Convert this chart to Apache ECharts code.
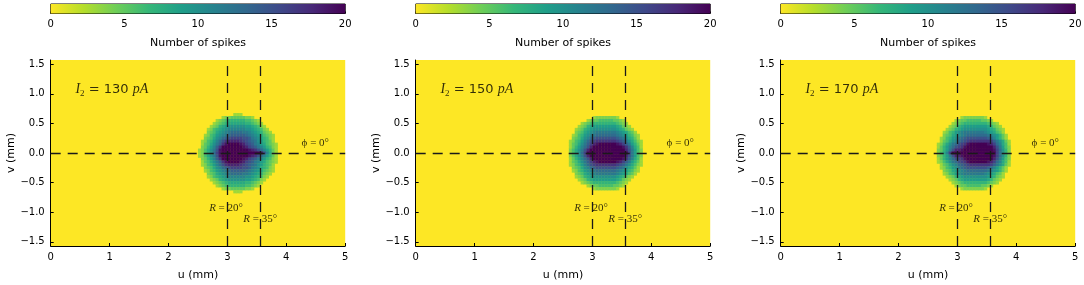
<!DOCTYPE html>
<html>
<head>
<meta charset="utf-8">
<script src="https://cdn.jsdelivr.net/npm/echarts@6/dist/echarts.min.js"></script>
<style>
  html, body { margin: 0; padding: 0; background: #fff; }
  #chart { width: 1084px; height: 285px; }
</style>
</head>
<body>
<div id="chart"></div>
<script>
// cell centres of the spike-count maps (mm), 0.05 mm cells
var CELL = 0.05;
var U_CENTERS = [2.525, 2.575, 2.625, 2.675, 2.725, 2.775, 2.825, 2.875, 2.925, 2.975,
                 3.025, 3.075, 3.125, 3.175, 3.225, 3.275, 3.325, 3.375, 3.425, 3.475,
                 3.525, 3.575, 3.625, 3.675, 3.725, 3.775, 3.825, 3.875, 3.925];
var V_CENTERS = [0.65, 0.6, 0.55, 0.5, 0.45, 0.4, 0.35, 0.3, 0.25, 0.2, 0.15, 0.1, 0.05, 0,
                 -0.05, -0.1, -0.15, -0.2, -0.25, -0.3, -0.35, -0.4, -0.45, -0.5, -0.55, -0.6, -0.65];

var CURRENTS = [130, 150, 170];

// number of spikes, rows top -> bottom (V_CENTERS), columns left -> right (U_CENTERS)
var SPIKES_130 = [
  [0,0,0,0,0,0,0,0,0,0,0,0,3,3,3,0,0,0,0,0,0,0,0,0,0,0,0,0,0],
  [0,0,0,0,0,0,0,0,3,4,4,5,5,5,5,5,4,4,3,0,0,0,0,0,0,0,0,0,0],
  [0,0,0,0,0,0,3,4,5,6,7,7,7,7,7,7,6,6,5,4,3,0,0,0,0,0,0,0,0],
  [0,0,0,0,0,3,4,5,6,7,8,8,8,8,8,8,7,7,6,5,4,3,0,0,0,0,0,0,0],
  [0,0,0,0,3,4,5,7,8,9,10,10,10,10,10,10,9,9,8,7,6,4,3,0,0,0,0,0,0],
  [0,0,0,3,4,6,7,8,9,10,11,11,11,11,11,11,10,10,9,8,7,6,4,3,0,0,0,0,0],
  [0,0,0,4,5,6,8,9,10,11,12,13,13,13,13,12,12,11,10,9,8,7,5,4,3,0,0,0,0],
  [0,0,3,4,6,7,9,10,11,12,13,14,14,14,14,14,13,12,11,10,9,8,6,5,4,3,0,0,0],
  [0,0,4,5,6,8,10,11,13,14,15,16,16,16,16,15,15,14,12,11,10,8,7,6,4,3,0,0,0],
  [0,3,4,6,7,9,11,13,15,17,18,18,18,18,17,16,15,14,13,12,10,9,7,6,5,3,0,0,0],
  [0,3,5,6,8,10,12,14,17,19,20,20,20,20,19,18,16,15,14,12,11,9,8,6,5,4,3,0,0],
  [0,4,5,7,9,11,14,17,20,20,20,20,20,20,20,19,18,16,15,14,12,11,9,7,6,4,3,0,0],
  [3,4,6,8,10,12,15,19,20,20,20,20,20,20,20,20,20,19,18,17,15,13,11,9,7,5,3,0,0],
  [3,4,6,8,10,13,16,19,20,20,20,20,20,20,20,20,20,20,20,20,20,19,15,11,8,5,3,0,0],
  [3,4,6,8,10,12,15,19,20,20,20,20,20,20,20,20,20,19,18,17,15,13,11,9,7,5,3,0,0],
  [0,4,5,7,9,11,14,17,20,20,20,20,20,20,20,19,18,16,15,14,12,11,9,7,6,4,3,0,0],
  [0,3,5,6,8,10,12,14,17,19,20,20,20,20,19,18,16,15,14,12,11,9,8,6,5,4,3,0,0],
  [0,3,4,6,7,9,11,13,15,17,18,18,18,18,17,16,15,14,13,12,10,9,7,6,5,3,0,0,0],
  [0,0,4,5,6,8,10,11,13,14,15,16,16,16,16,15,15,14,12,11,10,8,7,6,4,3,0,0,0],
  [0,0,3,4,6,7,9,10,11,12,13,14,14,14,14,14,13,12,11,10,9,8,6,5,4,3,0,0,0],
  [0,0,0,4,5,6,8,9,10,11,12,13,13,13,13,12,12,11,10,9,8,7,5,4,3,0,0,0,0],
  [0,0,0,3,4,6,7,8,9,10,11,11,11,11,11,11,10,10,9,8,7,6,4,3,0,0,0,0,0],
  [0,0,0,0,3,4,5,7,8,9,10,10,10,10,10,10,9,9,8,7,6,4,3,0,0,0,0,0,0],
  [0,0,0,0,0,3,4,5,6,7,8,8,8,8,8,8,7,7,6,5,4,3,0,0,0,0,0,0,0],
  [0,0,0,0,0,0,3,4,5,6,7,7,7,7,7,7,6,6,5,4,3,0,0,0,0,0,0,0,0],
  [0,0,0,0,0,0,0,0,3,4,4,5,5,5,5,5,4,4,3,0,0,0,0,0,0,0,0,0,0],
  [0,0,0,0,0,0,0,0,0,0,0,0,3,3,3,0,0,0,0,0,0,0,0,0,0,0,0,0,0]
];
var SPIKES_150 = [
  [0,0,0,0,0,0,0,0,0,0,0,0,0,0,0,0,0,0,0,0,0,0,0,0,0,0,0,0,0],
  [0,0,0,0,0,0,0,0,0,0,3,4,4,4,4,4,4,4,3,0,0,0,0,0,0,0,0,0,0],
  [0,0,0,0,0,0,0,0,3,4,5,5,6,6,6,6,6,5,5,4,3,0,0,0,0,0,0,0,0],
  [0,0,0,0,0,0,3,4,5,6,7,7,7,7,7,7,7,7,6,5,4,3,0,0,0,0,0,0,0],
  [0,0,0,0,0,3,4,5,7,8,9,9,9,9,9,9,9,9,8,7,5,4,3,0,0,0,0,0,0],
  [0,0,0,0,3,4,5,7,8,9,10,10,10,10,10,10,10,10,9,8,7,5,4,3,0,0,0,0,0],
  [0,0,0,0,4,5,6,8,9,10,11,12,12,12,12,12,12,12,11,10,9,8,6,5,3,0,0,0,0],
  [0,0,0,3,4,6,7,9,10,11,12,13,13,13,13,13,13,13,12,11,10,9,7,6,4,3,0,0,0],
  [0,0,0,4,5,6,8,10,11,13,14,15,15,15,15,15,15,15,14,13,12,10,8,7,5,3,0,0,0],
  [0,0,3,4,6,7,9,11,13,15,16,17,17,17,17,17,17,17,16,15,14,12,10,8,6,4,3,0,0],
  [0,0,3,5,6,8,10,12,14,16,18,19,20,20,20,20,20,20,19,18,16,14,12,9,7,5,3,0,0],
  [0,0,3,5,7,9,11,13,15,18,20,20,20,20,20,20,20,20,20,20,19,17,14,11,8,6,3,0,0],
  [0,0,4,6,8,10,12,15,18,20,20,20,20,20,20,20,20,20,20,20,20,18,15,12,9,6,4,0,0],
  [0,0,4,6,8,10,13,16,20,20,20,20,20,20,20,20,20,20,20,20,20,20,16,12,9,6,4,0,0],
  [0,0,4,6,8,10,12,15,18,20,20,20,20,20,20,20,20,20,20,20,20,18,15,12,9,6,4,0,0],
  [0,0,3,5,7,9,11,13,15,18,20,20,20,20,20,20,20,20,20,20,19,17,14,11,8,6,3,0,0],
  [0,0,3,5,6,8,10,12,14,16,18,19,20,20,20,20,20,20,19,18,16,14,12,9,7,5,3,0,0],
  [0,0,3,4,6,7,9,11,13,15,16,17,17,17,17,17,17,17,16,15,14,12,10,8,6,4,3,0,0],
  [0,0,0,4,5,6,8,10,11,13,14,15,15,15,15,15,15,15,14,13,12,10,8,7,5,3,0,0,0],
  [0,0,0,3,4,6,7,9,10,11,12,13,13,13,13,13,13,13,12,11,10,9,7,6,4,3,0,0,0],
  [0,0,0,0,4,5,6,8,9,10,11,12,12,12,12,12,12,12,11,10,9,8,6,5,3,0,0,0,0],
  [0,0,0,0,3,4,5,7,8,9,10,10,10,10,10,10,10,10,9,8,7,5,4,3,0,0,0,0,0],
  [0,0,0,0,0,3,4,5,7,8,9,9,9,9,9,9,9,9,8,7,5,4,3,0,0,0,0,0,0],
  [0,0,0,0,0,0,3,4,5,6,7,7,7,7,7,7,7,7,6,5,4,3,0,0,0,0,0,0,0],
  [0,0,0,0,0,0,0,0,3,4,5,5,6,6,6,6,6,5,5,4,3,0,0,0,0,0,0,0,0],
  [0,0,0,0,0,0,0,0,0,0,3,4,4,4,4,4,4,4,3,0,0,0,0,0,0,0,0,0,0],
  [0,0,0,0,0,0,0,0,0,0,0,0,0,0,0,0,0,0,0,0,0,0,0,0,0,0,0,0,0]
];
var SPIKES_170 = [
  [0,0,0,0,0,0,0,0,0,0,0,0,0,0,0,0,0,0,0,0,0,0,0,0,0,0,0,0,0],
  [0,0,0,0,0,0,0,0,0,0,0,3,4,4,4,4,4,4,4,3,0,0,0,0,0,0,0,0,0],
  [0,0,0,0,0,0,0,0,0,3,4,5,5,6,6,6,6,6,5,5,4,3,0,0,0,0,0,0,0],
  [0,0,0,0,0,0,0,0,3,4,5,6,7,7,7,7,7,7,7,7,6,5,4,3,0,0,0,0,0],
  [0,0,0,0,0,0,0,3,4,5,7,8,9,9,9,9,9,9,9,9,8,7,5,4,3,0,0,0,0],
  [0,0,0,0,0,0,3,4,5,7,8,9,10,10,10,10,10,10,10,10,9,8,7,5,4,3,0,0,0],
  [0,0,0,0,0,3,4,6,7,9,10,11,12,12,12,12,12,12,12,11,10,9,8,6,5,3,0,0,0],
  [0,0,0,0,0,4,5,6,8,9,10,11,12,13,13,13,13,13,13,13,12,11,10,9,7,5,3,0,0],
  [0,0,0,0,3,4,6,7,9,10,12,13,14,15,15,15,15,15,15,15,14,13,11,9,7,5,3,0,0],
  [0,0,0,0,3,5,6,8,10,11,13,14,15,16,17,17,17,17,17,17,17,16,14,12,10,8,5,3,0],
  [0,0,0,3,4,6,8,10,12,13,15,16,17,19,20,20,20,20,20,20,19,18,16,13,11,8,6,3,0],
  [0,0,0,3,5,7,9,11,13,15,16,17,19,20,20,20,20,20,20,20,20,20,18,15,12,9,6,4,0],
  [0,0,0,4,5,7,9,12,15,18,18,19,20,20,20,20,20,20,20,20,20,20,19,16,13,10,7,4,0],
  [0,0,0,4,6,8,11,16,20,20,20,20,20,20,20,20,20,20,20,20,20,20,20,16,13,10,7,4,0],
  [0,0,0,4,5,7,9,12,15,18,18,19,20,20,20,20,20,20,20,20,20,20,19,16,13,10,7,4,0],
  [0,0,0,3,5,7,9,11,13,15,16,17,19,20,20,20,20,20,20,20,20,20,18,15,12,9,6,4,0],
  [0,0,0,3,4,6,8,10,12,13,15,16,17,19,20,20,20,20,20,20,19,18,16,13,11,8,6,3,0],
  [0,0,0,0,3,5,6,8,10,11,13,14,15,16,17,17,17,17,17,17,17,16,14,12,10,8,5,3,0],
  [0,0,0,0,3,4,6,7,9,10,12,13,14,15,15,15,15,15,15,15,14,13,11,9,7,5,3,0,0],
  [0,0,0,0,0,4,5,6,8,9,10,11,12,13,13,13,13,13,13,13,12,11,10,9,7,5,3,0,0],
  [0,0,0,0,0,3,4,6,7,9,10,11,12,12,12,12,12,12,12,11,10,9,8,6,5,3,0,0,0],
  [0,0,0,0,0,0,3,4,5,7,8,9,10,10,10,10,10,10,10,10,9,8,7,5,4,3,0,0,0],
  [0,0,0,0,0,0,0,3,4,5,7,8,9,9,9,9,9,9,9,9,8,7,5,4,3,0,0,0,0],
  [0,0,0,0,0,0,0,0,3,4,5,6,7,7,7,7,7,7,7,7,6,5,4,3,0,0,0,0,0],
  [0,0,0,0,0,0,0,0,0,3,4,5,5,6,6,6,6,6,5,5,4,3,0,0,0,0,0,0,0],
  [0,0,0,0,0,0,0,0,0,0,0,3,4,4,4,4,4,4,4,3,0,0,0,0,0,0,0,0,0],
  [0,0,0,0,0,0,0,0,0,0,0,0,0,0,0,0,0,0,0,0,0,0,0,0,0,0,0,0,0]
];
var SPIKE_MAPS = [SPIKES_130, SPIKES_150, SPIKES_170];

// reference lines: R = 20 deg, R = 35 deg, phi = 0
var R_LINES_U = [3.0, 3.55];
var PHI_LINE_V = 0;

var U_TICKS = [0, 1, 2, 3, 4, 5];
var V_TICKS = [-1.5, -1.0, -0.5, 0.0, 0.5, 1.0, 1.5];
var CBAR_TICKS = [0, 5, 10, 15, 20];
var V_LIMIT = Math.PI / 2;

// reversed viridis
var VIRIDIS_R = ['#fde725', '#b5de2b', '#6ece58', '#35b779', '#1f9e89', '#26828e', '#31688e', '#3e4989', '#482878', '#440154'];

var chart = echarts.init(document.getElementById('chart'), null, { renderer: 'canvas' });

var PANEL_LEFT = [50.7, 415.7, 780.7];
var PANEL_W = 294.5;
var PLOT_TOP = 60, PLOT_H = 186;
var CB_TOP = 4, CB_H = 9.5;

var minus = function (s) { return String(s).replace('-', '\u2212'); };

var grids = [], xAxes = [], yAxes = [], series = [];

PANEL_LEFT.forEach(function (left, i) {
  // heat map grid
  grids.push({
    left: left, top: PLOT_TOP, width: PANEL_W, height: PLOT_H, outerBoundsMode: 'none',
    show: true, backgroundColor: VIRIDIS_R[0], borderWidth: 0
  });
  // colour bar grid
  grids.push({
    left: left, top: CB_TOP, width: PANEL_W, height: CB_H, outerBoundsMode: 'none',
    show: true, borderColor: '#000', borderWidth: 1, backgroundColor: 'transparent'
  });

  xAxes.push({
    gridIndex: 2 * i, type: 'value', min: 0, max: 5, interval: 1,
    name: 'u (mm)', nameLocation: 'middle', nameGap: 24,
    nameTextStyle: { fontFamily: 'DejaVu Sans', fontSize: 11, color: '#000' },
    axisLine: { show: true, onZero: false, lineStyle: { color: '#000', width: 1 } },
    axisTick: { show: true, inside: true, length: 3, lineStyle: { color: '#000' } },
    axisLabel: { fontFamily: 'DejaVu Sans', fontSize: 10, color: '#000', margin: 6,
      customValues: U_TICKS },
    splitLine: { show: false }
  });
  yAxes.push({
    gridIndex: 2 * i, type: 'value', min: -V_LIMIT, max: V_LIMIT,
    name: 'v (mm)', nameLocation: 'middle', nameGap: 34, nameRotate: 90,
    nameTextStyle: { fontFamily: 'DejaVu Sans', fontSize: 11, color: '#000' },
    axisLine: { show: true, onZero: false, lineStyle: { color: '#000', width: 1 } },
    axisTick: { show: true, inside: true, length: 3, customValues: V_TICKS, lineStyle: { color: '#000' } },
    axisLabel: { fontFamily: 'DejaVu Sans', fontSize: 10, color: '#000', margin: 6,
      customValues: V_TICKS,
      formatter: function (v) { return minus(v.toFixed(1)); } },
    splitLine: { show: false }
  });

  xAxes.push({
    gridIndex: 2 * i + 1, type: 'value', min: 0, max: 20, interval: 5,
    name: 'Number of spikes', nameLocation: 'middle', nameGap: 24,
    nameTextStyle: { fontFamily: 'DejaVu Sans', fontSize: 11, color: '#000' },
    axisLine: { show: false },
    axisTick: { show: true, inside: true, length: 2, lineStyle: { color: '#000' } },
    axisLabel: { fontFamily: 'DejaVu Sans', fontSize: 10, color: '#000', margin: 6 },
    splitLine: { show: false }
  });
  yAxes.push({
    gridIndex: 2 * i + 1, type: 'category', data: ['cb'], show: false
  });

  // spike count cells
  var map = SPIKE_MAPS[i];
  var cells = [];
  V_CENTERS.forEach(function (v, r) {
    U_CENTERS.forEach(function (u, c) {
      if (map[r][c] > 0) cells.push([u, v, map[r][c]]);
    });
  });

  series.push({
    type: 'custom',
    xAxisIndex: 2 * i, yAxisIndex: 2 * i,
    data: cells,
    encode: { x: 0, y: 1 },
    silent: true,
    renderItem: function (params, api) {
      var u = api.value(0), v = api.value(1);
      var p0 = api.coord([u - CELL / 2, v + CELL / 2]);
      var p1 = api.coord([u + CELL / 2, v - CELL / 2]);
      return {
        type: 'rect',
        shape: { x: p0[0], y: p0[1], width: p1[0] - p0[0] + 0.4, height: p1[1] - p0[1] + 0.4 },
        style: { fill: api.visual('color') }
      };
    },
    markLine: {
      silent: true, symbol: 'none', animation: false,
      label: { show: false },
      lineStyle: { color: '#1a1a1a', width: 1.3, type: [10, 7] },
      data: [{ xAxis: R_LINES_U[0] }, { xAxis: R_LINES_U[1] }, { yAxis: PHI_LINE_V }]
    },
    z: 2
  });

  // annotations
  series.push({
    type: 'scatter',
    xAxisIndex: 2 * i, yAxisIndex: 2 * i,
    symbolSize: 0, silent: true, z: 5,
    data: [
      { value: [0.42, 1.07], label: { formatter: '{m|I}{sub|2}{n| = ' + CURRENTS[i] + ' }{m|pA}' } },
      { value: [4.26, 0.17], label: { formatter: '{s|\u03d5}{s| = 0\u00b0}' } },
      { value: [2.69, -0.93], label: { formatter: '{r|R}{s| = 20\u00b0}' } },
      { value: [3.27, -1.11], label: { formatter: '{r|R}{s| = 35\u00b0}' } }
    ],
    label: {
      show: true, position: 'right', distance: 0, color: '#000',
      rich: {
        m: { fontFamily: 'Liberation Serif', fontStyle: 'italic', fontSize: 14, color: '#000' },
        sub: { fontFamily: 'Liberation Serif', fontSize: 9, color: '#000', padding: [8, 0, 0, 0] },
        n: { fontFamily: 'DejaVu Sans', fontSize: 13, color: '#000' },
        r: { fontFamily: 'Liberation Serif', fontStyle: 'italic', fontSize: 11, color: '#000' },
        s: { fontFamily: 'Liberation Serif', fontSize: 11, color: '#000' }
      }
    }
  });

  // colour bar
  series.push({
    type: 'bar',
    xAxisIndex: 2 * i + 1, yAxisIndex: 2 * i + 1,
    data: [CBAR_TICKS[CBAR_TICKS.length - 1]],
    barWidth: '100%', silent: true, z: 1,
    itemStyle: {
      color: new echarts.graphic.LinearGradient(0, 0, 1, 0,
        VIRIDIS_R.map(function (c, k) { return { offset: k / (VIRIDIS_R.length - 1), color: c }; }))
    }
  });
});

chart.setOption({
  animation: false,
  backgroundColor: '#fff',
  grid: grids,
  xAxis: xAxes,
  yAxis: yAxes,
  visualMap: {
    type: 'continuous', show: false, min: 0, max: 20, dimension: 2,
    seriesIndex: [0, 3, 6],
    inRange: { color: VIRIDIS_R }
  },
  series: series
});
</script>
</body>
</html>
